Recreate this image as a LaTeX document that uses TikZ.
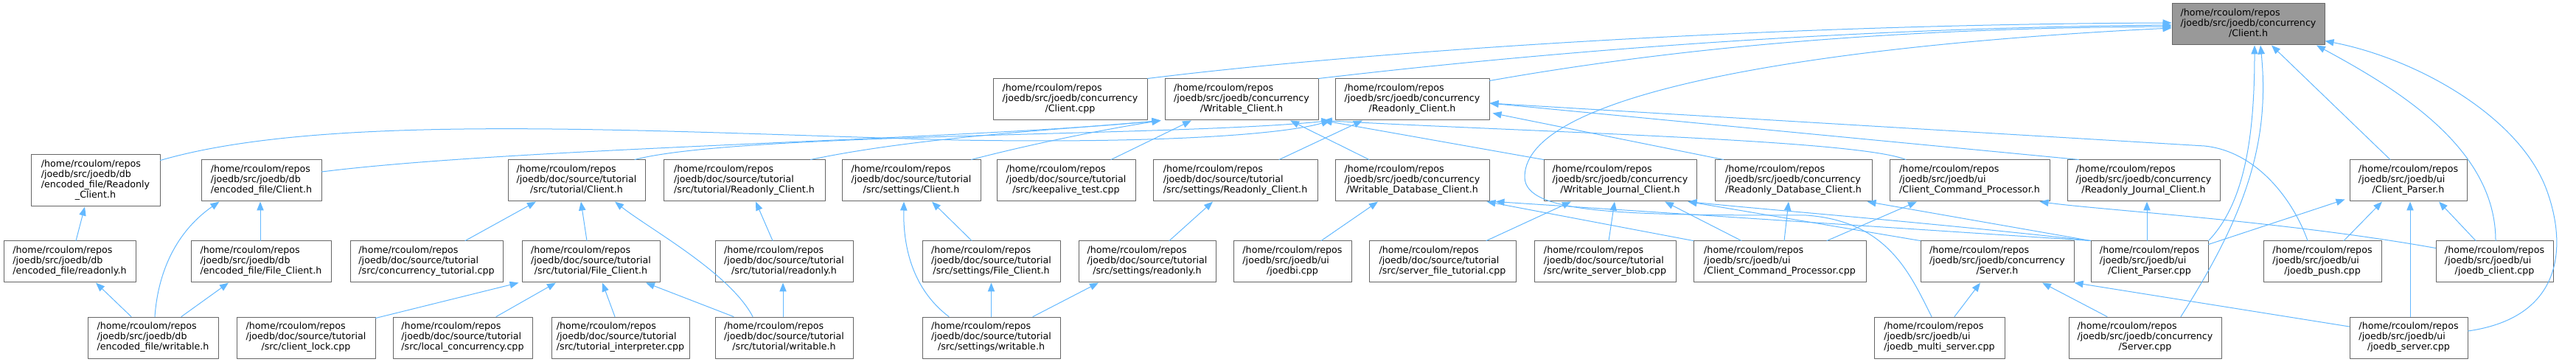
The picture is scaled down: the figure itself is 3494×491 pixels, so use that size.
\documentclass[tikz,border=0pt]{standalone}
\usepackage{fontspec}
\setmainfont{DejaVu Sans}
\usetikzlibrary{arrows.meta}
\definecolor{grey40}{HTML}{666666}
\definecolor{grey60}{HTML}{999999}
\definecolor{steel}{HTML}{63B8FF}
% path label: fixed first line, middle line, centred last line
\newcommand{\pth}[2]{\begin{tabular}{@{}l@{}}/home/rcoulom/repos\\#1\\\multicolumn{1}{@{}c@{}}{#2}\end{tabular}}

\begin{document}
\begin{tikzpicture}[x=0.75pt, y=-0.75pt, line cap=round, line join=round,
	filebox/.style={draw=grey40, fill=white, line width=0.75pt, inner sep=0pt,
		minimum height=42pt, font={\fontsize{9.5}{10.5}\selectfont}},
	wd/.style={minimum width=#1*0.75pt},
	dep/.style={draw=steel, line width=0.75pt, -{Triangle[length=9pt,width=7pt]}}]

\useasboundingbox (0,0) rectangle (3494,491);

%========================
% Row 0: the header itself
%========================
\node[filebox, wd=207, fill=grey60] (main) at (3049.5,33) {\pth{/joedb/src/joedb/concurrency}{/Client.h}};

%========================
% Row 1
%========================
\node[filebox, wd=209] (cCpp) at (1451.5,135) {\pth{/joedb/src/joedb/concurrency}{/Client.cpp}};
\node[filebox, wd=208] (wCl) at (1684,135) {\pth{/joedb/src/joedb/concurrency}{/Writable\_Client.h}};
\node[filebox, wd=209] (rCl) at (1915.5,135) {\pth{/joedb/src/joedb/concurrency}{/Readonly\_Client.h}};

%========================
% Row 2
%========================
\node[filebox, wd=175, minimum height=52.5pt] (efRC) at (129.5,245)
	{\begin{tabular}{@{}l@{}}/home/rcoulom/repos\\/joedb/src/joedb/db\\/encoded\_file/Readonly\\\multicolumn{1}{@{}c@{}}{\_Client.h}\end{tabular}};
\node[filebox, wd=163] (efC) at (354.5,245) {\pth{/joedb/src/joedb/db}{/encoded\_file/Client.h}};
\node[filebox, wd=186] (tC) at (782,245) {\pth{/joedb/doc/source/tutorial}{/src/tutorial/Client.h}};
\node[filebox, wd=219] (tRC) at (1009.5,245) {\pth{/joedb/doc/source/tutorial}{/src/tutorial/Readonly\_Client.h}};
\node[filebox, wd=188] (sC) at (1236,245) {\pth{/joedb/doc/source/tutorial}{/src/settings/Client.h}};
\node[filebox, wd=188] (kat) at (1446,245) {\pth{/joedb/doc/source/tutorial}{/src/keepalive\_test.cpp}};
\node[filebox, wd=223] (sRC) at (1675.5,245) {\pth{/joedb/doc/source/tutorial}{/src/settings/Readonly\_Client.h}};
\node[filebox, wd=209] (wdc) at (1915.5,245) {\pth{/joedb/src/joedb/concurrency}{/Writable\_Database\_Client.h}};
\node[filebox, wd=207] (wjc) at (2197.5,245) {\pth{/joedb/src/joedb/concurrency}{/Writable\_Journal\_Client.h}};
\node[filebox, wd=213] (rdc) at (2432.5,245) {\pth{/joedb/src/joedb/concurrency}{/Readonly\_Database\_Client.h}};
\node[filebox, wd=217] (ccph) at (2671.5,245) {\pth{/joedb/src/joedb/ui}{/Client\_Command\_Processor.h}};
\node[filebox, wd=207] (rjc) at (2907.5,245) {\pth{/joedb/src/joedb/concurrency}{/Readonly\_Journal\_Client.h}};
\node[filebox, wd=159] (cph) at (3266.5,245) {\pth{/joedb/src/joedb/ui}{/Client\_Parser.h}};

%========================
% Row 3
%========================
\node[filebox, wd=179] (efro) at (94.5,355) {\pth{/joedb/src/joedb/db}{/encoded\_file/readonly.h}};
\node[filebox, wd=190] (effc) at (354,355) {\pth{/joedb/src/joedb/db}{/encoded\_file/File\_Client.h}};
\node[filebox, wd=207] (ctut) at (578.5,355) {\pth{/joedb/doc/source/tutorial}{/src/concurrency\_tutorial.cpp}};
\node[filebox, wd=187] (tfc) at (801.5,355) {\pth{/joedb/doc/source/tutorial}{/src/tutorial/File\_Client.h}};
\node[filebox, wd=187] (tro) at (1063.5,355) {\pth{/joedb/doc/source/tutorial}{/src/tutorial/readonly.h}};
\node[filebox, wd=187] (sfc) at (1344.5,355) {\pth{/joedb/doc/source/tutorial}{/src/settings/File\_Client.h}};
\node[filebox, wd=186] (sro) at (1556,355) {\pth{/joedb/doc/source/tutorial}{/src/settings/readonly.h}};
\node[filebox, wd=160] (jbi) at (1753,355) {\pth{/joedb/src/joedb/ui}{/joedbi.cpp}};
\node[filebox, wd=199] (sft) at (1956.5,355) {\pth{/joedb/doc/source/tutorial}{/src/server\_file\_tutorial.cpp}};
\node[filebox, wd=192] (wsb) at (2177,355) {\pth{/joedb/doc/source/tutorial}{/src/write\_server\_blob.cpp}};
\node[filebox, wd=234] (ccpc) at (2414,355) {\pth{/joedb/src/joedb/ui}{/Client\_Command\_Processor.cpp}};
\node[filebox, wd=208] (srvh) at (2709,355) {\pth{/joedb/src/joedb/concurrency}{/Server.h}};
\node[filebox, wd=159] (cpc) at (2915.5,355) {\pth{/joedb/src/joedb/ui}{/Client\_Parser.cpp}};
\node[filebox, wd=160] (push) at (3150,355) {\pth{/joedb/src/joedb/ui}{/joedb\_push.cpp}};
\node[filebox, wd=159] (jcl) at (3383.5,355) {\pth{/joedb/src/joedb/ui}{/joedb\_client.cpp}};

%========================
% Row 4
%========================
\node[filebox, wd=177] (efwr) at (207.5,458) {\pth{/joedb/src/joedb/db}{/encoded\_file/writable.h}};
\node[filebox, wd=188] (clk) at (415,458) {\pth{/joedb/doc/source/tutorial}{/src/client\_lock.cpp}};
\node[filebox, wd=189] (lcc) at (627.5,458) {\pth{/joedb/doc/source/tutorial}{/src/local\_concurrency.cpp}};
\node[filebox, wd=187] (tint) at (841.5,458) {\pth{/joedb/doc/source/tutorial}{/src/tutorial\_interpreter.cpp}};
\node[filebox, wd=187] (twr) at (1063.5,458) {\pth{/joedb/doc/source/tutorial}{/src/tutorial/writable.h}};
\node[filebox, wd=187] (swr) at (1344.5,458) {\pth{/joedb/doc/source/tutorial}{/src/settings/writable.h}};
\node[filebox, wd=177] (jms) at (2630.5,458) {\pth{/joedb/src/joedb/ui}{/joedb\_multi\_server.cpp}};
\node[filebox, wd=207] (scpp) at (2909.5,458) {\pth{/joedb/src/joedb/concurrency}{/Server.cpp}};
\node[filebox, wd=160] (jsrv) at (3267,458) {\pth{/joedb/src/joedb/ui}{/joedb\_server.cpp}};

%========================
% Edges into Client.h
%========================
\draw[dep] (cCpp.north east) .. controls (1850,70) and (2400,33) .. ([shift={(0,-2)}]main.west);
\draw[dep] (wCl.north east) .. controls (2100,70) and (2500,38) .. ([shift={(0,1)}]main.west);
\draw[dep] ([shift={(0,3)}]rCl.north east) .. controls (2300,60) and (2600,38) .. ([shift={(0,3)}]main.west);
\draw[dep] ([shift={(-10.5,0)}]jms.north) .. controls (2590,370) and (2560,300) .. (2450,292)
	.. controls (2200,292) and (2068,290) .. (2068,240)
	.. controls (2068,120) and (2500,60) .. ([shift={(0,5)}]main.west);
\draw[dep] (cpc.north east) .. controls (3040,280) and (3058,200) .. ([shift={(8.5,0)}]main.south);
\draw[dep] ([shift={(48.5,0)}]scpp.north) .. controls (3040,300) and (3080,200) .. ([shift={(16.5,0)}]main.south);
\draw[dep] ([shift={(-24.5,0)}]cph.north) -- ([shift={(31.5,0)}]main.south);
\draw[dep] ([shift={(1.5,0)}]jcl.north) .. controls (3385,200) and (3250,120) .. ([shift={(92.5,0)}]main.south);
\draw[dep] ([shift={(0,-9)}]jsrv.east) .. controls (3480,430) and (3480,330) .. (3455,260)
	.. controls (3420,160) and (3280,80) .. ([shift={(0,-6)}]main.south east);

%========================
% Edges into Writable_Client.h
%========================
\draw[dep] ([shift={(0,-12)}]efC.east) .. controls (700,200) and (1300,190) .. ([shift={(-5,0)}]wCl.south west);
\draw[dep] ([shift={(-20,0)}]tRC.north east) .. controls (1250,185) and (1450,175) .. ([shift={(-5,0)}]wCl.south west);
\draw[dep] ([shift={(-13,0)}]sC.north east) .. controls (1400,195) and (1500,175) .. ([shift={(-5,0)}]wCl.south west);
\draw[dep] ([shift={(61,0)}]kat.north) -- ([shift={(-68,0)}]wCl.south);
\draw[dep] ([shift={(-58.5,0)}]wdc.north) -- ([shift={(66,0)}]wCl.south);
\draw[dep] (wjc.north west) -- ([shift={(6,0)}]wCl.south east);
\draw[dep] ([shift={(-86.5,0)}]ccph.north) .. controls (2520,190) and (2100,180) .. ([shift={(6,0)}]wCl.south east);

%========================
% Edges into Readonly_Client.h
%========================
\draw[dep] ([shift={(79,0)}]tC.north) .. controls (1000,180) and (1600,185) .. ([shift={(-6,0)}]rCl.south west);
\draw[dep] ([shift={(0,8)}]efRC.north east) .. controls (450,150) and (900,180) .. (1300,190)
	.. controls (1600,195) and (1750,180) .. ([shift={(-6,0)}]rCl.south west);
\draw[dep] ([shift={(59.5,0)}]sRC.north) -- ([shift={(-67.5,0)}]rCl.south);
\draw[dep] ([shift={(16,0)}]rjc.north west) -- ([shift={(0,5)}]rCl.east);
\draw[dep] ([shift={(-20,0)}]push.north) .. controls (3110,270) and (3060,205) .. (2990,198) -- ([shift={(0,5)}]rCl.east);
\draw[dep] ([shift={(12,0)}]rdc.north west) -- ([shift={(4,-10)}]rCl.south east);

%========================
% Edges between the middle rows
%========================
\draw[dep] ([shift={(39,0)}]jbi.north) -- ([shift={(-46.5,0)}]wdc.south);
\draw[dep] (ccpc.north west) -- ([shift={(-4,0)}]wdc.south east);
\draw[dep] (cpc.north west) -- ([shift={(8,0)}]wdc.south east);
\draw[dep] ([shift={(59.5,0)}]sft.north) -- ([shift={(-66.5,0)}]wjc.south);
\draw[dep] ([shift={(5,0)}]wsb.north) -- ([shift={(-7.5,0)}]wjc.south);
\draw[dep] ([shift={(-52,0)}]ccpc.north) -- ([shift={(60.5,0)}]wjc.south);
\draw[dep] (srvh.north west) -- ([shift={(-12,0)}]wjc.south east);
\draw[dep] (cpc.north west) .. controls (2600,300) and (2400,285) .. ([shift={(-12,0)}]wjc.south east);
\draw[dep] ([shift={(6,0)}]ccpc.north) -- ([shift={(-6.5,0)}]rdc.south);
\draw[dep] (cpc.north west) -- ([shift={(-7,0)}]rdc.south east);
\draw[dep] ([shift={(64,0)}]ccpc.north) -- ([shift={(-71.5,0)}]ccph.south);
\draw[dep] ([shift={(0,10)}]jcl.north west) .. controls (3100,300) and (2850,285) .. ([shift={(-14,0)}]ccph.south east);
\draw[dep] ([shift={(-3.5,0)}]cpc.north) -- ([shift={(4.5,0)}]rjc.south);
\draw[dep] ([shift={(0,5)}]cpc.north east) -- ([shift={(-6,-3)}]cph.south west);
\draw[dep] ([shift={(29,0)}]push.north) -- ([shift={(-35.5,0)}]cph.south);
\draw[dep] ([shift={(2,0)}]jsrv.north) -- ([shift={(2.5,0)}]cph.south);
\draw[dep] ([shift={(-25.5,0)}]jcl.north) -- ([shift={(41.5,0)}]cph.south);
\draw[dep] ([shift={(20.5,0)}]jms.north) -- ([shift={(-23,0)}]srvh.south);
\draw[dep] ([shift={(-51.5,0)}]scpp.north) -- ([shift={(61,0)}]srvh.south);
\draw[dep] ([shift={(0,-15)}]jsrv.west) -- (srvh.south east);

%========================
% Left-hand part
%========================
\draw[dep] ([shift={(8.5,0)}]efro.north) -- ([shift={(-14.5,0)}]efRC.south);
\draw[dep] ([shift={(-1,0)}]effc.north) -- ([shift={(-1.5,0)}]efC.south);
\draw[dep] ([shift={(-29.5,0)}]efwr.north) -- ([shift={(35.5,0)}]efro.south);
\draw[dep] ([shift={(2.5,0)}]efwr.north) .. controls (215,360) and (245,310) .. ([shift={(25,0)}]efC.south west);
\draw[dep] ([shift={(38.5,0)}]efwr.north) -- ([shift={(-44,0)}]effc.south);
\draw[dep] ([shift={(52.5,0)}]ctut.north) -- ([shift={(-55,0)}]tC.south);
\draw[dep] ([shift={(-5.5,0)}]tfc.north) -- ([shift={(6,0)}]tC.south);
\draw[dep] ([shift={(-42.5,0)}]twr.north) .. controls (990,370) and (880,310) .. ([shift={(52,0)}]tC.south);
\draw[dep] ([shift={(-15.5,0)}]tro.north) -- ([shift={(15.5,0)}]tRC.south);
\draw[dep] ([shift={(-1.5,0)}]twr.north) -- ([shift={(-1.5,0)}]tro.south);
\draw[dep] ([shift={(0,2)}]clk.north east) -- ([shift={(-4,0)}]tfc.south west);
\draw[dep] ([shift={(45.5,0)}]lcc.north) -- ([shift={(-47.5,0)}]tfc.south);
\draw[dep] ([shift={(-7.5,0)}]tint.north) -- ([shift={(15.5,0)}]tfc.south);
\draw[dep] ([shift={(-68.5,0)}]twr.north) -- ([shift={(74.5,0)}]tfc.south);
\draw[dep] ([shift={(-26.5,0)}]sfc.north) -- ([shift={(28,0)}]sC.south);
\draw[dep] ([shift={(-57.5,0)}]swr.north) .. controls (1235,390) and (1225,330) .. ([shift={(-10,0)}]sC.south);
\draw[dep] (swr.north) -- (sfc.south);
\draw[dep] ([shift={(56.5,0)}]swr.north) -- ([shift={(-66,0)}]sro.south);
\draw[dep] ([shift={(30,0)}]sro.north) -- ([shift={(-30.5,0)}]sRC.south);

\end{tikzpicture}
\end{document}
